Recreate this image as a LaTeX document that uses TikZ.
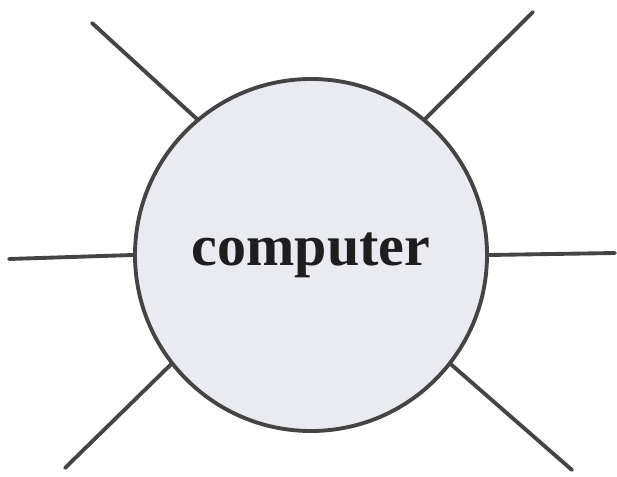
\documentclass[tikz,border=0pt]{standalone}
\usepackage{fontspec}
\setmainfont{Liberation Serif}
\usetikzlibrary{positioning}
\definecolor{inkgrey}{HTML}{444444}
\definecolor{paleblue}{HTML}{E9EBF1}
\definecolor{textink}{HTML}{1E1E1E}
\begin{document}
\begin{tikzpicture}[x=0.03cm, y=-0.03cm, line width=3.3pt,
    spoke/.style={draw=inkgrey, line cap=round},
    hub/.style={circle, draw=inkgrey, fill=paleblue, minimum size=10.56cm, inner sep=0pt, text=textink, font=\bfseries\fontsize{49.5}{56}\selectfont}]
    \useasboundingbox (0,0) rectangle (617,477);
    % central circle
    \node[hub] (comp) at (311,255) {computer};
    % outer ends of the spokes
    \coordinate (tl) at (92,23);
    \coordinate (tr) at (533,12);
    \coordinate (lf) at (9,259);
    \coordinate (rt) at (615,253);
    \coordinate (bl) at (65,468);
    \coordinate (br) at (572,470);
    % spokes
    \draw[spoke] (tl) -- (comp.130.7);
    \draw[spoke] (tr) -- (comp.50.7);
    \draw[spoke] (lf) -- (comp.180);
    \draw[spoke] (rt) -- (comp.0);
    \draw[spoke] (bl) -- (comp.218);
    \draw[spoke] (br) -- (comp.322);
\end{tikzpicture}
\end{document}
